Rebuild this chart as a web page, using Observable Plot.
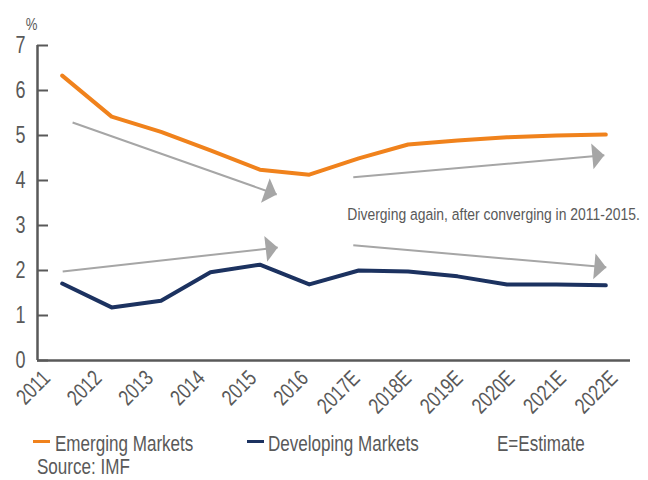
<!DOCTYPE html>
<html><head><meta charset="utf-8">
<script src="https://cdn.jsdelivr.net/npm/d3@7"></script>
<script src="https://cdn.jsdelivr.net/npm/@observablehq/plot@0.6"></script>
<style>
body{margin:0;background:#fff;}
#wrap{position:relative;width:648px;height:480px;font-family:"Liberation Sans",Arial,sans-serif;color:#595959;}
#wrap svg{position:absolute;left:0;top:0;}
.leg{position:absolute;font-size:22px;line-height:1;white-space:nowrap;color:#595959;transform:scaleX(0.775);transform-origin:0 0;}
.sw{position:absolute;height:3px;width:17px;}
</style></head><body><div id="wrap"></div>
<script>
// ---- data ----
const years = ["2011","2012","2013","2014","2015","2016","2017E","2018E","2019E","2020E","2021E","2022E"];
const emerging = [6.33,5.42,5.08,4.67,4.24,4.13,4.49,4.80,4.89,4.96,5.00,5.02];
const developing = [1.71,1.18,1.33,1.96,2.13,1.69,2.00,1.98,1.87,1.69,1.69,1.67];
const yTicks = [0,1,2,3,4,5,6,7];
// trend arrows (x in category index units, y in %)
const arrowX1 = [0.21, 0.01, 5.89, 5.89];
const arrowY1 = [5.29, 1.98, 4.07, 2.56];
const arrowX2 = [4.34, 4.36, 10.97, 11.01];
const arrowY2 = [3.69, 2.51, 4.56, 2.07];
const noteText = ["Diverging again, after converging in 2011-2015."];
const noteX = [5.77], noteY = [3.24];
const seriesNames = ["Emerging Markets","Developing Markets"];
const seriesColors = ["#F0821C","#1C3260"];

// ---- chart ----
const FONT = '"Liberation Sans",Arial,sans-serif';
const idx = years.map((d,i)=>i);
const emRows = idx.map(i=>({i, v: emerging[i]}));
const dvRows = idx.map(i=>({i, v: developing[i]}));
const arrows = arrowX1.map((d,i)=>i);

const chart = Plot.plot({
  width: 648, height: 420,
  marginLeft: 37, marginRight: 18, marginTop: 45, marginBottom: 60,
  style: {fontFamily: FONT, color: "#595959", background: "#fff", overflow: "visible"},
  x: {type: "linear", domain: [-0.5, 11.5], axis: null},
  y: {domain: [0, 7], axis: null},
  marks: [
    // axis lines
    Plot.ruleX([-0.5], {y1: 0, y2: 7, stroke: "#595959", strokeWidth: 2.5}),
    Plot.ruleY([0], {x1: -0.5, x2: 11.5, stroke: "#595959", strokeWidth: 2.5}),
    // inward ticks
    Plot.axisY(yTicks, {tickSize: 11, dx: 11, tickFormat: () => "", label: null, stroke: "#595959", strokeWidth: 2}),
    // tick labels
    Plot.text(yTicks, {y: d => d, frameAnchor: "left", dx: -12, textAnchor: "end", fontSize: 23, fill: "#595959"}),
    Plot.text(["%"], {frameAnchor: "top-left", dx: -6, dy: -27, fontSize: 16, fill: "#595959", textAnchor: "middle"}),
    // x labels
    Plot.text(years, {x: (d,i) => i*1.044 - 0.3, frameAnchor: "bottom", dx: -7, dy: 8, rotate: -45,
      textAnchor: "end", lineAnchor: "top", fontSize: 22, fill: "#595959"}),
    // arrows
    Plot.link(arrows, {x1: i=>arrowX1[i], y1: i=>arrowY1[i], x2: i=>arrowX2[i], y2: i=>arrowY2[i],
      stroke: "#A6A6A6", strokeWidth: 2,
      render(index, scales, values, dimensions, context, next) {
        const g = next(index, scales, values, dimensions, context);
        const {x1: X1, y1: Y1, x2: X2, y2: Y2} = values;
        for (const i of index) {
          const dx = X2[i]-X1[i], dy = Y2[i]-Y1[i], len = Math.hypot(dx, dy);
          const ux = dx/len, uy = dy/len, L = 12, W = 13;
          const bx = X2[i]-ux*L, by = Y2[i]-uy*L;
          const pts = [[X2[i], Y2[i]], [bx - uy*W, by + ux*W], [bx + uy*W, by - ux*W]];
          const p = document.createElementNS("http://www.w3.org/2000/svg", "path");
          p.setAttribute("d", "M" + pts.map(q => q[0].toFixed(1)+","+q[1].toFixed(1)).join("L") + "Z");
          p.setAttribute("fill", "#A6A6A6");
          p.setAttribute("stroke", "none");
          g.appendChild(p);
        }
        return g;
      }}),
    Plot.text(noteText, {x: noteX, y: noteY, textAnchor: "start", fontSize: 17, fill: "#595959", className: "note"}),
    // series
    Plot.line(emRows, {x: "i", y: "v", stroke: seriesColors[0], strokeWidth: 4, strokeLinecap: "round", strokeLinejoin: "round"}),
    Plot.line(dvRows, {x: "i", y: "v", stroke: seriesColors[1], strokeWidth: 4, strokeLinecap: "round", strokeLinejoin: "round"})
  ]
});
const wrap = document.getElementById("wrap");
wrap.appendChild(chart);
// condense glyphs (narrow face look)
chart.querySelectorAll("text").forEach(t => {
  const inNote = t.closest(".note");
  const fs = parseFloat(t.getAttribute("font-size") || (t.parentNode && t.parentNode.getAttribute("font-size")) || 0);
  if (inNote) {
    // horizontal condensing about the text's start point
    const k = 0.82;
    const x = parseFloat(t.getAttribute("x") || 0);
    const prev = t.getAttribute("transform") || "";
    t.setAttribute("transform", `${prev} translate(${(x * (1 - k)).toFixed(2)},0) scale(${k},1)`);
    return;
  }
  const L = t.getComputedTextLength();
  const k = fs >= 20 ? 0.78 : 0.82;
  if (L > 0) {
    t.setAttribute("textLength", (L * k).toFixed(2));
    t.setAttribute("lengthAdjust", "spacingAndGlyphs");
  }
});

// ---- legend & source (HTML below the SVG) ----
function addText(t, left, top) {
  const d = document.createElement("div"); d.className = "leg"; d.textContent = t;
  d.style.left = left + "px"; d.style.top = top + "px"; wrap.appendChild(d);
}
function addSwatch(c, left, top) {
  const d = document.createElement("div"); d.className = "sw"; d.style.background = c;
  d.style.left = left + "px"; d.style.top = top + "px"; wrap.appendChild(d);
}
addSwatch(seriesColors[0], 33, 439.5);
addText(seriesNames[0], 55, 433.4);
addSwatch(seriesColors[1], 247, 439.5);
addText(seriesNames[1], 268, 433.4);
addText("E=Estimate", 497, 433.4);
addText("Source: IMF", 37, 456.4);
</script></body></html>
